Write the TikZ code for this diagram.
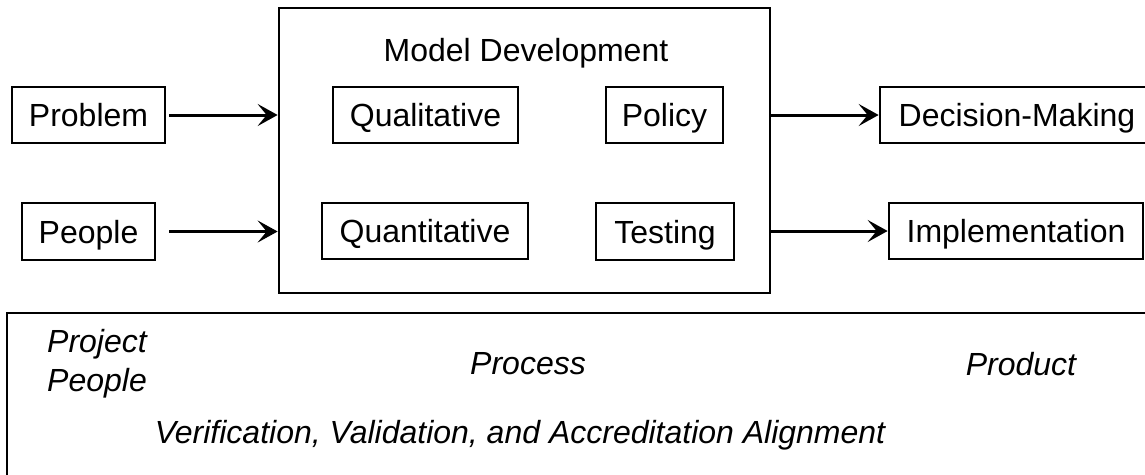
\documentclass[tikz,border=0pt]{standalone}
\usepackage{fontspec}
\setmainfont{Liberation Sans}
\usetikzlibrary{arrows.meta}
\begin{document}
\begin{tikzpicture}[x=1pt,y=-1pt,
  txt/.style={font=\fontsize{32}{38}\selectfont, inner sep=0pt, text height=23pt, text depth=0pt},
  itxt/.style={font=\fontsize{32}{39}\selectfont\itshape, inner sep=0pt},
  box/.style={draw, line width=2.7pt, inner sep=0pt, text height=23pt, text depth=0pt,
    font=\fontsize{32}{38}\selectfont},
  flow/.style={line width=3pt, -{Stealth[length=20pt, width=22pt, inset=9pt]}}]
\useasboundingbox (0,0) rectangle (1145,474);
\clip (0,0) rectangle (1145,474);

% central model development block
\node[box, minimum width=491pt, minimum height=285pt] (model) at (524.5,150.5) {};
\node[txt] (title) at (526,50) {Model Development};
\node[box, minimum width=185pt, minimum height=56pt] (qual) at (425.5,115) {Qualitative};
\node[box, minimum width=117pt, minimum height=56pt] (policy) at (664.5,115) {Policy};
\node[box, minimum width=206pt, minimum height=56pt] (quant) at (425,231) {Quantitative};
\node[box, minimum width=138pt, minimum height=57pt] (testing) at (665,231.5) {Testing};

% inputs
\node[box, minimum width=153pt, minimum height=56pt] (problem) at (88.5,115) {Problem};
\node[box, minimum width=133pt, minimum height=57pt] (people) at (88.5,231.5) {People};

% outputs
\node[box, minimum width=274pt, minimum height=56pt] (decision) at (1017,115) {Decision-Making};
\node[box, minimum width=254pt, minimum height=56pt] (impl) at (1016,231) {Implementation};

% connectors
\draw[flow, shorten <=3pt] (problem.east) -- (problem.east -| model.west);
\draw[flow, shorten <=13pt] (people.east) -- (people.east -| model.west);
\draw[flow] (model.east |- decision.west) -- (decision.west);
\draw[flow] (model.east |- impl.west) -- (impl.west);

% alignment panel
\draw[line width=2pt] (7,313) rectangle (1170,500);
\node[itxt, align=left, anchor=west] (pp) at (47,364) {Project\\People};
\node[itxt] (process) at (528,364) {Process};
\node[itxt] (product) at (1021,364) {Product};
\node[itxt] (vva) at (520,435) {Verification, Validation, and Accreditation Alignment};
\end{tikzpicture}
\end{document}
